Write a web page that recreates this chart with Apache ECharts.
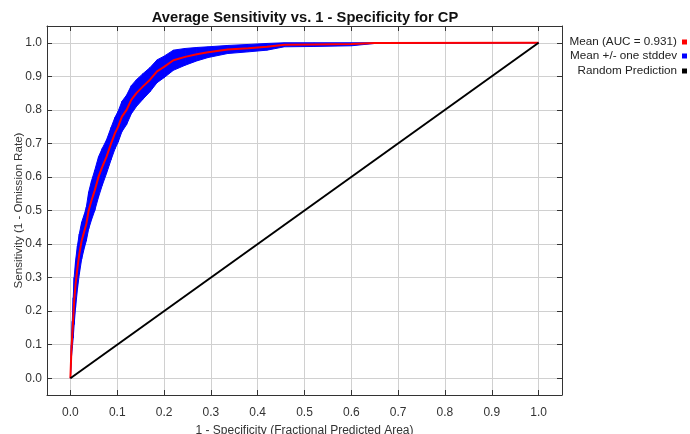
<!DOCTYPE html>
<html>
<head>
<meta charset="utf-8">
<script src="https://cdn.jsdelivr.net/npm/echarts@6/dist/echarts.min.js"></script>
<style>html,body{margin:0;padding:0;background:#fff;}#chart{width:690px;height:434px;}</style>
</head>
<body>
<div id="chart"></div>
<script>
// 1 - specificity (fractional predicted area)
var fpr = [0, 0.002, 0.004, 0.006, 0.008, 0.011, 0.015, 0.019, 0.024, 0.030, 0.034, 0.039, 0.045, 0.052, 0.060, 0.068, 0.077, 0.087, 0.095, 0.102, 0.110, 0.120, 0.130, 0.141, 0.155, 0.170, 0.185, 0.200, 0.220, 0.245, 0.270, 0.294, 0.336, 0.380, 0.420, 0.457, 0.520, 0.600, 0.650, 1.0];
// mean sensitivity
var meanSens = [0, 0.08, 0.13, 0.18, 0.23, 0.28, 0.33, 0.37, 0.41, 0.44, 0.46, 0.50, 0.53, 0.56, 0.60, 0.63, 0.66, 0.70, 0.73, 0.75, 0.78, 0.80, 0.83, 0.85, 0.87, 0.89, 0.915, 0.928, 0.948, 0.958, 0.966, 0.972, 0.980, 0.984, 0.988, 0.994, 0.995, 0.996, 0.999, 1.0];
// mean - one stddev
var lowerSens = [0, 0.06, 0.09, 0.12, 0.16, 0.21, 0.265, 0.31, 0.355, 0.39, 0.41, 0.445, 0.472, 0.50, 0.54, 0.575, 0.61, 0.652, 0.683, 0.704, 0.735, 0.756, 0.788, 0.81, 0.832, 0.854, 0.881, 0.896, 0.918, 0.933, 0.946, 0.956, 0.968, 0.973, 0.978, 0.988, 0.989, 0.991, 0.998, 1.0];
// mean + one stddev
var upperSens = [0, 0.10, 0.17, 0.24, 0.30, 0.35, 0.395, 0.43, 0.465, 0.49, 0.51, 0.555, 0.588, 0.62, 0.66, 0.685, 0.71, 0.748, 0.777, 0.796, 0.825, 0.844, 0.872, 0.89, 0.908, 0.926, 0.949, 0.96, 0.978, 0.983, 0.986, 0.988, 0.992, 0.995, 0.998, 1.0, 1.0, 1.0, 1.0, 1.0];
// random prediction
var randX = [0, 1];
var randY = [0, 1];

var seriesNames = ['Mean (AUC = 0.931)', 'Mean +/- one stddev', 'Random Prediction'];
var titleText = 'Average Sensitivity vs. 1 - Specificity for CP';
var xName = '1 - Specificity (Fractional Predicted Area)';
var yName = 'Sensitivity (1 - Omission Rate)';

var FONT = 'Liberation Sans, Arial, sans-serif';

function pairs(xs, ys) { return xs.map(function (x, i) { return [x, ys[i]]; }); }

var bandData = fpr.map(function (x, i) { return [x, lowerSens[i], upperSens[i]]; });

var chart = echarts.init(document.getElementById('chart'), null, { renderer: 'canvas' });

function mkAxis(pos, showLabels, name) {
  return {
    type: 'value', position: pos, min: -0.05, max: 1.05, splitNumber: 11,
    axisLine: { show: true, onZero: false, lineStyle: { color: '#333', width: 1 } },
    axisTick: { show: true, inside: true, length: 5, lineStyle: { color: '#333' } },
    axisLabel: {
      show: showLabels, showMinLabel: false, showMaxLabel: false,
      color: '#333', fontSize: 12, fontFamily: FONT,
      formatter: function (v) { return v.toFixed(1); }
    },
    splitLine: { show: showLabels, lineStyle: { color: '#d0d0d0', width: 1 } },
    name: name || '', nameLocation: 'middle', nameMoveOverlap: false,
    nameTextStyle: { color: '#333', fontSize: 12, fontFamily: FONT }
  };
}

var xb = mkAxis('bottom', true, xName); xb.nameGap = 30; xb.axisLabel.margin = 12;
var xt = mkAxis('top', false);
var yl = mkAxis('left', true, yName); yl.nameGap = 22; yl.axisLabel.margin = 5;
yl.nameTextStyle.fontSize = 11.6;
var yr = mkAxis('right', false);

function legendFor(name, top) {
  return {
    data: [name], right: 3, top: top, orient: 'vertical', align: 'right',
    icon: 'rect', itemWidth: 5, itemHeight: 5, itemGap: 0, padding: 0,
    selectedMode: false,
    textStyle: { color: '#222', fontSize: 11.7, fontFamily: FONT }
  };
}

function renderBand(params, api) {
  var i = params.dataIndex;
  if (i >= fpr.length - 1) { return null; }
  var x0 = api.value(0), lo0 = api.value(1), up0 = api.value(2);
  var x1 = fpr[i + 1], lo1 = lowerSens[i + 1], up1 = upperSens[i + 1];
  var pts = [api.coord([x0, lo0]), api.coord([x1, lo1]), api.coord([x1, up1]), api.coord([x0, up0])];
  return {
    type: 'polygon',
    shape: { points: pts },
    style: { fill: '#0000ff', stroke: '#0000ff', lineWidth: 1 }
  };
}

chart.setOption({
  animation: false,
  backgroundColor: '#fff',
  title: {
    text: titleText, left: 300, top: 5, textAlign: 'center',
    textStyle: { fontSize: 14.7, fontWeight: 'bold', color: '#111', fontFamily: FONT }
  },
  legend: [
    legendFor(seriesNames[0], 36),
    legendFor(seriesNames[1], 50),
    legendFor(seriesNames[2], 65)
  ],
  grid: { left: 47, right: 128, top: 26, bottom: 39, containLabel: false, outerBoundsMode: 'none' },
  xAxis: [xb, xt],
  yAxis: [yl, yr],
  series: [
    {
      name: seriesNames[1], type: 'custom', xAxisIndex: 0, yAxisIndex: 0,
      data: bandData, renderItem: renderBand, color: '#0000ff',
      itemStyle: { color: '#0000ff' },
      encode: { x: 0, y: [1, 2] }, z: 2, silent: true
    },
    {
      name: seriesNames[0], type: 'line', xAxisIndex: 0, yAxisIndex: 0,
      data: pairs(fpr, meanSens), symbol: 'none', color: '#ff0000',
      itemStyle: { color: '#ff0000' },
      lineStyle: { color: '#ff0000', width: 2 }, z: 3
    },
    {
      name: seriesNames[2], type: 'line', xAxisIndex: 0, yAxisIndex: 0,
      data: pairs(randX, randY), symbol: 'none', color: '#000',
      itemStyle: { color: '#000' },
      lineStyle: { color: '#000', width: 2 }, z: 3
    }
  ]
});
</script>
</body>
</html>
